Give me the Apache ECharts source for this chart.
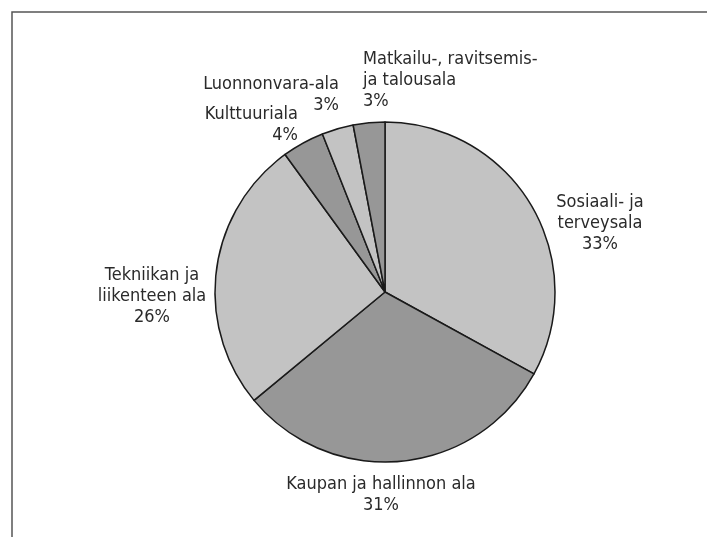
<!DOCTYPE html>
<html>
<head>
<meta charset="utf-8">
<title>Koulutusalat</title>
<script src="https://cdn.jsdelivr.net/npm/echarts@6/dist/echarts.min.js"></script>
<style>
  html, body { margin: 0; padding: 0; background: #fff; }
  #chart { width: 707px; height: 537px; }
</style>
</head>
<body>
<div id="chart"></div>
<script>
// koulutusalat ja osuudet (%), myötäpäivään klo 12:sta
var names = [
  "Sosiaali- ja\nterveysala",
  "Kaupan ja hallinnon ala",
  "Tekniikan ja\nliikenteen ala",
  "Kulttuuriala",
  "Luonnonvara-ala",
  "Matkailu-, ravitsemis-\nja talousala"
];
var values = [33, 31, 26, 4, 3, 3];
var sliceColors = ["#c3c3c3", "#979797", "#c3c3c3", "#979797", "#c3c3c3", "#979797"];

// tekstien paikat (ankkuri x, yläreuna y, tasaus)
var labelPos = [
  { x: 600, y: 192, align: "center" },
  { x: 381, y: 474, align: "center" },
  { x: 152, y: 265, align: "center" },
  { x: 298, y: 104, align: "right" },
  { x: 339, y: 74, align: "right" },
  { x: 363, y: 49, align: "left" }
];

var myChart = echarts.init(document.getElementById("chart"));

var data = names.map(function (n, i) {
  return { name: n, value: values[i], itemStyle: { color: sliceColors[i] } };
});

myChart.setOption({
  animation: false,
  graphic: [
    {
      type: "rect",
      shape: { x: 12, y: 12, width: 800, height: 700 },
      style: { fill: "none", stroke: "#555", lineWidth: 1.5 },
      silent: true
    }
  ],
  series: [
    {
      type: "pie",
      center: [385, 292],
      radius: 170,
      startAngle: 90,
      clockwise: true,
      data: data,
      itemStyle: { borderColor: "#1a1a1a", borderWidth: 1.5 },
      label: {
        show: true,
        position: "outside",
        formatter: "{b}\n{c}%",
        color: "#2a2a2a",
        fontFamily: "'Liberation Sans Narrow', 'DejaVu Sans Condensed', sans-serif",
        fontSize: 18,
        lineHeight: 21
      },
      labelLine: { show: false },
      labelLayout: function (p) {
        var pos = labelPos[p.dataIndex];
        return { x: pos.x, y: pos.y, align: pos.align, verticalAlign: "top" };
      },
      emphasis: { disabled: true }
    }
  ]
});
</script>
</body>
</html>
